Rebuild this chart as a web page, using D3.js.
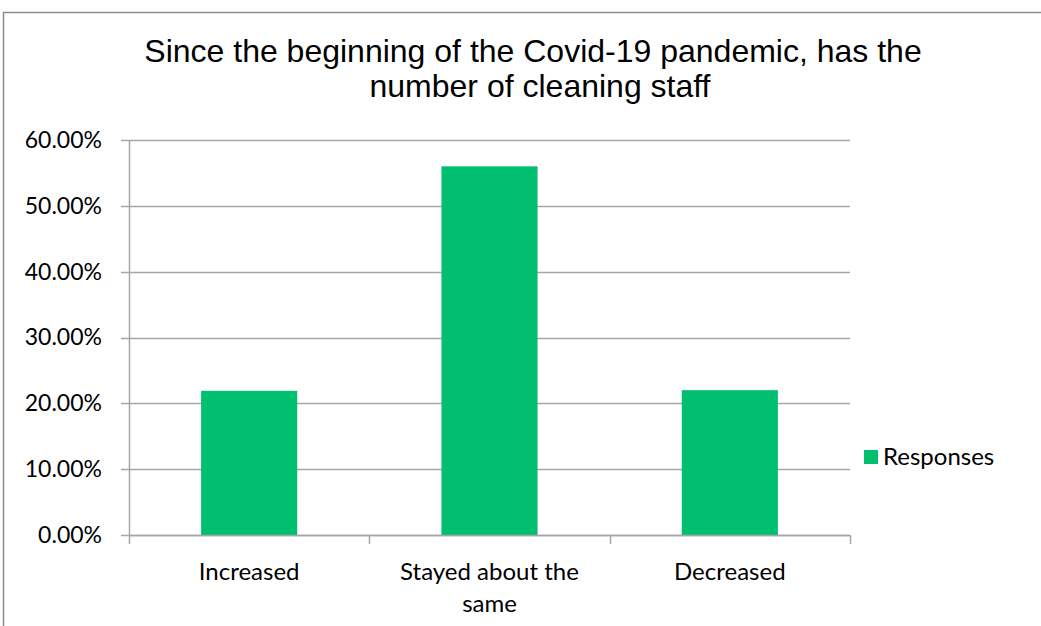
<!DOCTYPE html>
<html><head><meta charset="utf-8">
<script src="https://cdn.jsdelivr.net/npm/d3@7"></script>
<style>body{margin:0;background:#fff}svg{display:block}</style>
</head><body>
<svg id="c" width="1041" height="626"></svg>
<script>
const categories = ["Increased", "Stayed about the same", "Decreased"];
const categoryLines = [["Increased"], ["Stayed about the", "same"], ["Decreased"]];
const responses = [0.219, 0.560, 0.220];
const yTicks = [0, 0.1, 0.2, 0.3, 0.4, 0.5, 0.6];
const seriesName = "Responses";
const titleLines = ["Since the beginning of the Covid-19 pandemic, has the", "number of cleaning staff"];

const svg = d3.select("#c");
const green = "#00BF6F", grid = "#A6A6A6";
const labelFont = "Lato, 'Open Sans', sans-serif";

// outer frame
svg.append("path").attr("d","M3.5,626 L3.5,12.5 L1041,12.5").attr("fill","none").attr("stroke","#8c8c8c").attr("stroke-width",1.5);

const x = d3.scaleBand().domain(categories).range([129, 850]).paddingInner(0.6).paddingOuter(0.3);
const y = d3.scaleLinear().domain([0, 0.6]).range([535, 140]);

// title
const titleX = [533, 540];
svg.append("g").selectAll("text").data(titleLines).join("text")
  .attr("x", (d,i)=>titleX[i]).attr("y", (d,i)=>62 + i*35)
  .attr("text-anchor","middle")
  .attr("font-family","'Liberation Sans', Arial, sans-serif")
  .attr("font-size", 32).attr("fill","#000").text(d=>d);

// gridlines
svg.append("g").selectAll("line").data(yTicks).join("line")
  .attr("x1",121).attr("x2",850).attr("y1",d=>Math.round(y(d))+0.5).attr("y2",d=>Math.round(y(d))+0.5)
  .attr("stroke",grid).attr("stroke-width",1.5);

// y axis
const yAxis = d3.axisLeft(y).tickValues(yTicks).tickFormat(d3.format(".2%")).tickSize(0).tickPadding(0);
const gy = svg.append("g").attr("transform","translate(129,0)").call(yAxis);
gy.select(".domain").attr("stroke",grid).attr("stroke-width",1.5).attr("d","M0.5,140V535");
gy.selectAll("text").attr("x",-27).attr("font-family",labelFont).attr("font-size",23).attr("fill","#000");

// bars
svg.append("g").selectAll("rect").data(responses).join("rect")
  .attr("x",(d,i)=>x(categories[i])).attr("width",x.bandwidth())
  .attr("y",d=>y(d)).attr("height",d=>y(0)-y(d)).attr("fill",green);

// x axis line and ticks
const step = (850-129)/categories.length;
const xTickPos = d3.range(categories.length+1).map(i=>129+i*step);
svg.append("line").attr("x1",129).attr("x2",850).attr("y1",535.5).attr("y2",535.5).attr("stroke",grid).attr("stroke-width",1.5);
svg.append("g").selectAll("line").data(xTickPos).join("line")
  .attr("x1",d=>Math.round(d)+0.5).attr("x2",d=>Math.round(d)+0.5).attr("y1",535).attr("y2",544)
  .attr("stroke",grid).attr("stroke-width",1.5);

// category labels
const cl = svg.append("g").selectAll("text").data(categories).join("text")
  .attr("x",d=>x(d)+x.bandwidth()/2).attr("y",580)
  .attr("text-anchor","middle").attr("font-family",labelFont).attr("font-size",24).attr("fill","#000");
cl.each(function(d,i){
  d3.select(this).selectAll("tspan").data(categoryLines[i]).join("tspan")
    .attr("x",x(d)+x.bandwidth()/2).attr("dy",(t,j)=>j===0?0:32).text(t=>t);
});

// legend
svg.append("rect").attr("x",864).attr("y",450).attr("width",14).attr("height",14).attr("fill",green);
svg.append("text").attr("x",883).attr("y",465).attr("font-family",labelFont).attr("font-size",24).attr("fill","#000").text(seriesName);
</script>
</body></html>
